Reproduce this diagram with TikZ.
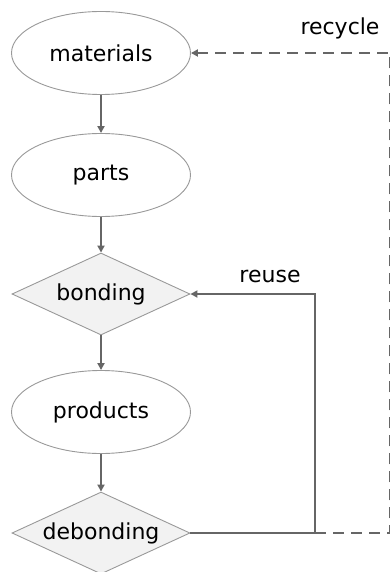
\documentclass[tikz,border=0pt]{standalone}
\usepackage{fontspec}
\setmainfont{DejaVu Sans}
\usetikzlibrary{shapes.geometric,arrows.meta}
\definecolor{linegray}{HTML}{666666}
\definecolor{edgegray}{HTML}{999999}
\definecolor{fillgray}{HTML}{F2F2F2}
\tikzset{
  ellnode/.style={ellipse,draw=edgegray,line width=0.9pt,fill=white,minimum width=179pt,minimum height=83pt,inner sep=0pt,font=\fontsize{22}{26}\selectfont},
  dianode/.style={diamond,draw=edgegray,line width=0.9pt,fill=fillgray,minimum width=178pt,minimum height=82pt,inner sep=0pt,aspect=2.17,font=\fontsize{22}{26}\selectfont},
  flow/.style={draw=linegray,line width=2pt,-{Triangle[length=7pt,width=7pt]}},
  plainline/.style={draw=linegray,line width=2pt},
  dashline/.style={draw=linegray,line width=2pt,dash pattern=on 11pt off 7pt},
  lbl/.style={font=\fontsize{22}{26}\selectfont,anchor=base,inner sep=0pt}
}
\begin{document}
\begin{tikzpicture}[x=1pt,y=-1pt]
\useasboundingbox (0,0) rectangle (390,572);
\clip (0,0) rectangle (390,572);
\node[ellnode] (mat) at (101,53) {materials};
\node[ellnode] (parts) at (101,175) {parts};
\node[dianode] (bond) at (101,294) {bonding};
\node[ellnode] (prod) at (101,412) {products};
\node[dianode] (debond) at (101,533) {debonding};
\coordinate (ru) at (315,533);
\coordinate (rt) at (315,294);
\coordinate (cb) at (390.4,533);
\coordinate (ct) at (390.4,53);
\draw[flow] (mat) -- (parts);
\draw[flow] (parts) -- (bond);
\draw[flow] (bond) -- (prod);
\draw[flow] (prod) -- (debond);
\draw[plainline] (debond.east) -- (ru);
\draw[flow] (ru) -- (rt) -- (bond.east);
\draw[dashline,-{Triangle[length=7pt,width=7pt]}] (ru) -- (cb) -- (ct) -- (mat.east);
\node[lbl] (reuse) at (270,282) {reuse};
\node[lbl] (recycle) at (340,35) {recycle};
\end{tikzpicture}
\end{document}
